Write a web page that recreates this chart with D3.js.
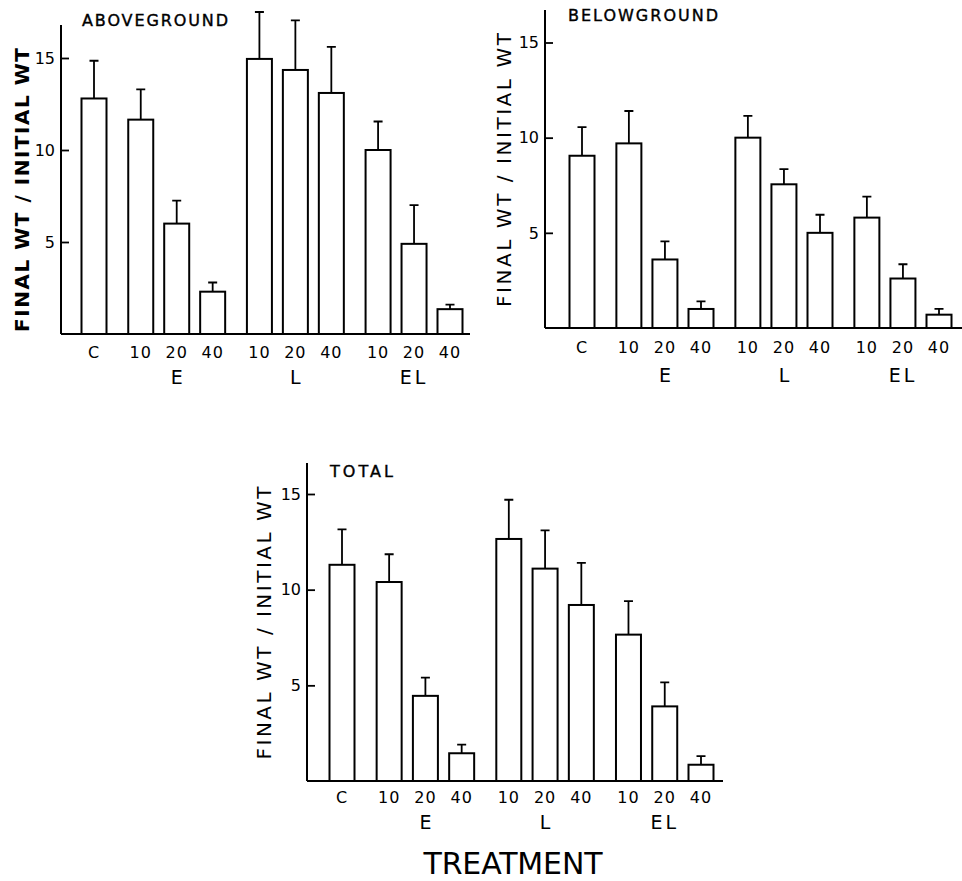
<!DOCTYPE html>
<html>
<head>
<meta charset="utf-8">
<script src="https://cdn.jsdelivr.net/npm/d3@7"></script>
<style>
  body { margin: 0; background: #fff; }
  svg text { font-family: "DejaVu Sans", sans-serif; fill: #000; }
</style>
</head>
<body>
<svg id="chart" width="962" height="881"></svg>
<script>
// treatments along the x axis
const categories = ["C", "E10", "E20", "E40", "L10", "L20", "L40", "EL10", "EL20", "EL40"];
const tickLabels = ["C", "10", "20", "40", "10", "20", "40", "10", "20", "40"];
const groupOf = ["C", "E", "E", "E", "L", "L", "L", "EL", "EL", "EL"];
const groupLabels = ["E", "L", "EL"];
const yTicks = [5, 10, 15];

// final wt / initial wt (means and error bar lengths)
const aboveMean = [12.8, 11.65, 6.0, 2.3, 14.95, 14.35, 13.1, 10.0, 4.9, 1.35];
const aboveErr  = [2.05, 1.65, 1.25, 0.5, 2.55, 2.7, 2.5, 1.55, 2.1, 0.25];
const belowMean = [9.05, 9.7, 3.6, 1.0, 10.0, 7.55, 5.0, 5.8, 2.6, 0.7];
const belowErr  = [1.5, 1.7, 0.95, 0.4, 1.15, 0.8, 0.95, 1.1, 0.75, 0.3];
const totalMean = [11.3, 10.4, 4.45, 1.45, 12.65, 11.1, 9.2, 7.65, 3.9, 0.85];
const totalErr  = [1.85, 1.45, 0.95, 0.45, 2.05, 2.0, 2.2, 1.75, 1.25, 0.45];

const svg = d3.select("#chart");

// panel geometry (pixels)
const panels = [
  { title: "ABOVEGROUND", mean: aboveMean, err: aboveErr, bold: true,
    axisX: 61, axisTop: 25, y0: 334, y15: 58, xFirst: 94, xLast: 450, baseEnd: 470,
    numY: 352, grpY: 377, titleX: 82, titleW: 146, titleY: 20, ytX: 22, ytY: 190, ytLen: 284 },
  { title: "BELOWGROUND", mean: belowMean, err: belowErr, bold: false,
    axisX: 545, axisTop: 10, y0: 328, y15: 42.5, xFirst: 582, xLast: 939, baseEnd: 962,
    numY: 347, grpY: 375, titleX: 568, titleW: 150, titleY: 15, ytX: 504, ytY: 170, ytLen: 274 },
  { title: "TOTAL", mean: totalMean, err: totalErr, bold: false,
    axisX: 307, axisTop: 463, y0: 781, y15: 494, xFirst: 342, xLast: 701, baseEnd: 723,
    numY: 797, grpY: 822, titleX: 330, titleW: 63, titleY: 471, ytX: 264, ytY: 623, ytLen: 273 }
];

const groupIndex = g => ["C", "E", "L", "EL"].indexOf(g);
const slot = (d, i) => i + 0.3 * groupIndex(groupOf[i]);
const barW = 25;

panels.forEach(p => {
  const g = svg.append("g");

  const x = d3.scaleLinear()
    .domain([0, slot(null, categories.length - 1)])
    .range([p.xFirst, p.xLast]);

  const y = d3.scaleLinear()
    .domain([0, 15])
    .range([p.y0, p.y15]);

  // y axis with inward ticks
  const yAxis = d3.axisRight(y).tickValues(yTicks).tickSize(8).tickFormat("");
  const ax = g.append("g")
    .attr("transform", `translate(${p.axisX},0)`)
    .call(yAxis);
  ax.select(".domain").remove();
  ax.selectAll(".tick line").attr("stroke", "#000").attr("stroke-width", 1.8);

  g.append("line")
    .attr("x1", p.axisX).attr("x2", p.axisX)
    .attr("y1", p.axisTop).attr("y2", y(0))
    .attr("stroke", "#000").attr("stroke-width", 2);

  g.selectAll(".ylab")
    .data(yTicks)
    .enter().append("text")
    .attr("x", p.axisX - 6)
    .attr("y", d => y(d))
    .attr("dy", "0.36em")
    .attr("text-anchor", "end")
    .attr("font-size", 16)
    .text(d => d);

  // bars
  g.selectAll(".bar")
    .data(categories)
    .enter().append("rect")
    .attr("x", (d, i) => x(slot(d, i)) - barW / 2)
    .attr("y", (d, i) => y(p.mean[i]))
    .attr("width", barW)
    .attr("height", (d, i) => y(0) - y(p.mean[i]))
    .attr("fill", "#fff")
    .attr("stroke", "#000")
    .attr("stroke-width", 2);

  // error bars
  g.selectAll(".err")
    .data(categories)
    .enter().append("path")
    .attr("d", (d, i) => {
      const cx = x(slot(d, i));
      const top = y(p.mean[i] + p.err[i]);
      return `M${cx},${y(p.mean[i])}V${top}M${cx - 4.5},${top}H${cx + 4.5}`;
    })
    .attr("fill", "none")
    .attr("stroke", "#000")
    .attr("stroke-width", 1.8);

  // baseline
  g.append("line")
    .attr("x1", p.axisX).attr("x2", p.baseEnd)
    .attr("y1", y(0)).attr("y2", y(0))
    .attr("stroke", "#000").attr("stroke-width", 2.2);

  // category labels
  g.selectAll(".xlab")
    .data(tickLabels)
    .enter().append("text")
    .attr("x", (d, i) => x(slot(d, i)))
    .attr("y", p.numY)
    .attr("dy", "0.36em")
    .attr("text-anchor", "middle")
    .attr("font-size", 16)
    .attr("letter-spacing", 1)
    .text(d => d);

  // group labels under middle bar of each group
  g.selectAll(".glab")
    .data(groupLabels)
    .enter().append("text")
    .attr("x", gl => {
      const idx = groupOf.indexOf(gl) + 1;
      return x(slot(null, idx));
    })
    .attr("y", p.grpY)
    .attr("dy", "0.36em")
    .attr("text-anchor", "middle")
    .attr("font-size", 19)
    .attr("letter-spacing", gl => gl.length > 1 ? 3 : 0)
    .text(gl => gl);

  // panel title
  g.append("text")
    .attr("x", p.titleX)
    .attr("y", p.titleY)
    .attr("dy", "0.36em")
    .attr("font-size", 16)
    .attr("stroke", "#000")
    .attr("stroke-width", 0.4)
    .attr("textLength", p.titleW)
    .attr("lengthAdjust", "spacing")
    .text(p.title);

  // y axis title
  g.append("text")
    .attr("transform", `translate(${p.ytX},${p.ytY}) rotate(-90)`)
    .attr("dy", "0.36em")
    .attr("text-anchor", "middle")
    .attr("font-size", 20)
    .attr("font-weight", p.bold ? "bold" : "normal")
    .attr("textLength", p.ytLen)
    .attr("lengthAdjust", "spacing")
    .text("FINAL  WT / INITIAL  WT");
});

svg.append("text")
  .attr("x", 513)
  .attr("y", 863)
  .attr("dy", "0.36em")
  .attr("text-anchor", "middle")
  .attr("font-size", 30)
  .attr("textLength", 179)
  .attr("lengthAdjust", "spacing")
  .text("TREATMENT");
</script>
</body>
</html>
